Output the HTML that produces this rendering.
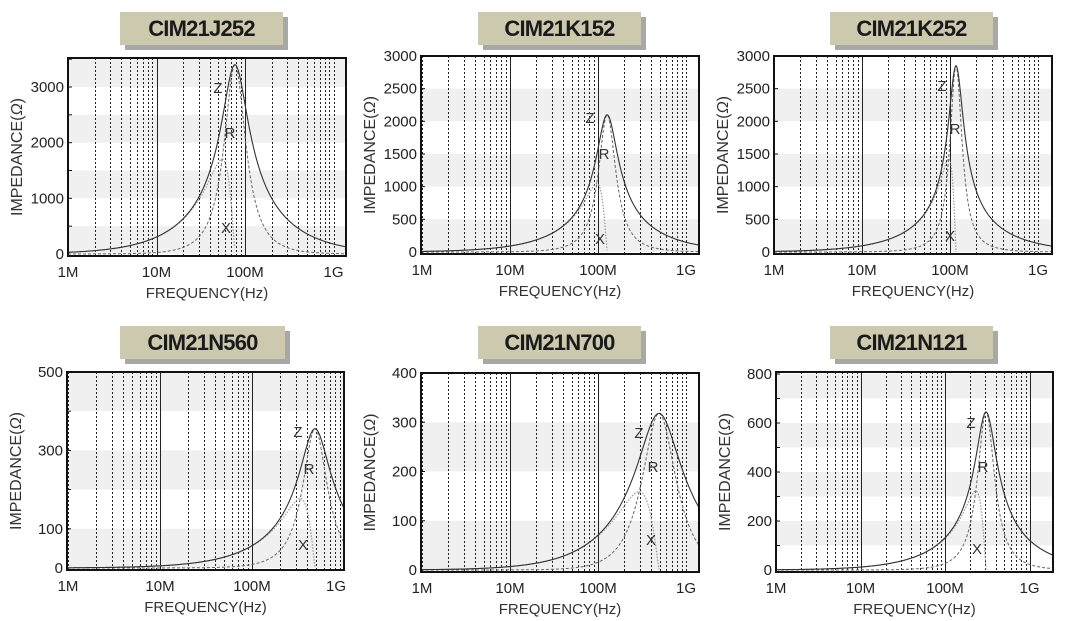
<!DOCTYPE html>
<html><head><meta charset="utf-8"><style>
html,body{margin:0;padding:0;background:#fff;}
svg{display:block;font-family:"Liberation Sans",sans-serif;}
</style></head><body>
<svg id="s" width="1068" height="621" viewBox="0 0 1068 621" xmlns="http://www.w3.org/2000/svg">
<text x="0" y="0"></text>
</svg>
<script>
var C=[
{t:"CIM21J252",tx:120,ty:12,tw:163,bl:68,br:346,m1:68,dec:88.5,top:58,bot:256,y0:254,k:167/3000,labs:[0,1000,2000,3000],grey:[[0,500],[1000,1500],[2000,2500],[3000,3600]],ticks:500,f0:77e6,Rp:3400,L:4.8e-6,Z:[218,88],R:[230,133],X:[226,228],solid:[1,2]},
{t:"CIM21K152",tx:478,ty:12,tw:163,bl:421,br:699,m1:422,dec:88,top:56,bot:254,y0:252,k:196/3000,labs:[0,500,1000,1500,2000,2500,3000],grey:[[0,500],[1000,1500],[2000,2500]],ticks:500,f0:127e6,Rp:2100,L:1.45e-6,Z:[590,118],R:[604,154],X:[600,239],solid:[1,2]},
{t:"CIM21K252",tx:830,ty:12,tw:163,bl:774,br:1052,m1:774,dec:88,top:56,bot:254,y0:252,k:196/3000,labs:[0,500,1000,1500,2000,2500,3000],grey:[[0,500],[1000,1500],[2000,2500]],ticks:500,f0:117e6,Rp:2850,L:1.5e-6,Z:[942,86],R:[955,129],X:[950,236],solid:[1,2]},
{t:"CIM21N560",tx:120,ty:326,tw:165,bl:67,br:344,m1:68,dec:92,top:372,bot:570,y0:568,k:196/500,labs:[0,100,300,500],grey:[[0,100],[200,300],[400,500]],ticks:100,f0:484e6,Rp:355,L:88e-9,Z:[298,432],R:[309,469],X:[303,545],solid:[1,2]},
{t:"CIM21N700",tx:478,ty:326,tw:163,bl:421,br:699,m1:422,dec:88,top:373,bot:572,y0:570,k:197/400,labs:[0,100,200,300,400],grey:[[0,100],[200,300]],ticks:100,f0:494e6,Rp:318,L:111e-9,Z:[639,433],R:[653,467],X:[651,540],solid:[1,2]},
{t:"CIM21N121",tx:830,ty:326,tw:163,bl:776,br:1053,m1:776,dec:84.5,top:372,bot:572,y0:570,k:196/800,labs:[0,200,400,600,800],grey:[[100,200],[300,400],[500,600],[700,800]],ticks:100,f0:306e6,Rp:645,L:191e-9,Z:[971,423],R:[983,467],X:[977,549],solid:[1,2,3]}
];
var h='';
C.forEach(function(c,i){
 var cid='c'+i;
 h+='<defs><clipPath id="'+cid+'"><rect x="'+c.bl+'" y="'+c.top+'" width="'+(c.br-c.bl)+'" height="'+(c.bot-c.top)+'"/></clipPath></defs>';
 h+='<rect x="'+(c.tx+5)+'" y="'+(c.ty+5)+'" width="'+c.tw+'" height="33" fill="#a8a8a8"/>';
 h+='<rect x="'+c.tx+'" y="'+c.ty+'" width="'+c.tw+'" height="33" fill="#cdc9ae"/>';
 h+='<text x="'+(c.tx+c.tw/2)+'" y="'+(c.ty+24)+'" text-anchor="middle" font-size="22" font-weight="bold" fill="#1a1a1a" letter-spacing="-0.8">'+c.t+'</text>';
 function Y(v){return c.y0-v*c.k;}
 h+='<g clip-path="url(#'+cid+')">';
 h+='<rect x="'+c.bl+'" y="'+c.top+'" width="'+(c.br-c.bl)+'" height="'+(c.bot-c.top)+'" fill="#fff"/>';
 c.grey.forEach(function(g){var a=Y(g[1]),b=Y(g[0]);h+='<rect x="'+c.bl+'" y="'+a+'" width="'+(c.br-c.bl)+'" height="'+(b-a)+'" fill="#f0f0f0"/>';});
 for(var d=0;d<4;d++){for(var m=1;m<10;m++){var x=Math.round(c.m1+(d+Math.log10(m))*c.dec)+0.5;if(x<=c.bl+1||x>=c.br-1)continue;
  if(m==1&&c.solid.indexOf(d)>=0)h+='<line x1="'+x+'" y1="'+c.top+'" x2="'+x+'" y2="'+c.bot+'" stroke="#222" stroke-width="1"/>';
  else h+='<line x1="'+x+'" y1="'+c.top+'" x2="'+x+'" y2="'+c.bot+'" stroke="#222" stroke-width="1" stroke-dasharray="2,2"/>';}}
 var w0=2*Math.PI*c.f0,Cc=1/(w0*w0*c.L),pz='',pr='',px='';
 for(var x=c.bl;x<=c.br;x+=0.5){var f=1e6*Math.pow(10,(x-c.m1)/c.dec),w=2*Math.PI*f;
  var g=1/c.Rp,b=w*Cc-1/(w*c.L);var den=g*g+b*b;var R=g/den,Xi=-b/den;var Z=Math.sqrt(R*R+Xi*Xi);
  pz+=(pz?'L':'M')+x.toFixed(1)+' '+Y(Z).toFixed(1);
  pr+=(pr?'L':'M')+x.toFixed(1)+' '+Y(R).toFixed(1);
  if(Xi>=0)px+=(px?'L':'M')+x.toFixed(1)+' '+Y(Xi).toFixed(1);}
 h+='<path d="'+px+'" fill="none" stroke="#999" stroke-width="1.2" stroke-dasharray="1.5,1.5"/>';
 h+='<path d="'+pr+'" fill="none" stroke="#666" stroke-width="1" stroke-dasharray="3,2"/>';
 h+='<path d="'+pz+'" fill="none" stroke="#333" stroke-width="1.1"/>';
 h+='</g>';
 h+='<rect x="'+c.bl+'" y="'+c.top+'" width="'+(c.br-c.bl)+'" height="'+(c.bot-c.top)+'" fill="none" stroke="#111" stroke-width="2"/>';
 var maxv=(c.y0-c.top)/c.k;
 for(var v=c.ticks;v<maxv;v+=c.ticks){h+='<line x1="'+c.bl+'" y1="'+Y(v)+'" x2="'+(c.bl+4)+'" y2="'+Y(v)+'" stroke="#111"/>';}
 c.labs.forEach(function(v){h+='<text x="'+(c.bl-4)+'" y="'+(Y(v)+5)+'" text-anchor="end" font-size="15" fill="#222">'+v+'</text>';});
 ['1M','10M','100M','1G'].forEach(function(l,d){var x=c.m1+d*c.dec;x=Math.min(x,c.br-8);h+='<text x="'+x+'" y="'+(c.bot+21)+'" text-anchor="middle" font-size="15" fill="#222">'+l+'</text>';});
 h+='<text x="'+((c.bl+c.br)/2)+'" y="'+(c.bot+42)+'" text-anchor="middle" font-size="15" fill="#333">FREQUENCY(Hz)</text>';
 var cy=(c.top+c.bot)/2;
 h+='<text transform="translate('+(c.bl-46)+','+cy+') rotate(-90)" text-anchor="middle" font-size="16" fill="#333">IMPEDANCE(<tspan font-style="italic">Ω</tspan>)</text>';
 [['Z',c.Z],['R',c.R],['X',c.X]].forEach(function(p){h+='<text x="'+p[1][0]+'" y="'+(p[1][1]+5)+'" text-anchor="middle" font-size="15" fill="#333">'+p[0]+'</text>';});
});
document.getElementById('s').innerHTML=h;
</script>
</body></html>
